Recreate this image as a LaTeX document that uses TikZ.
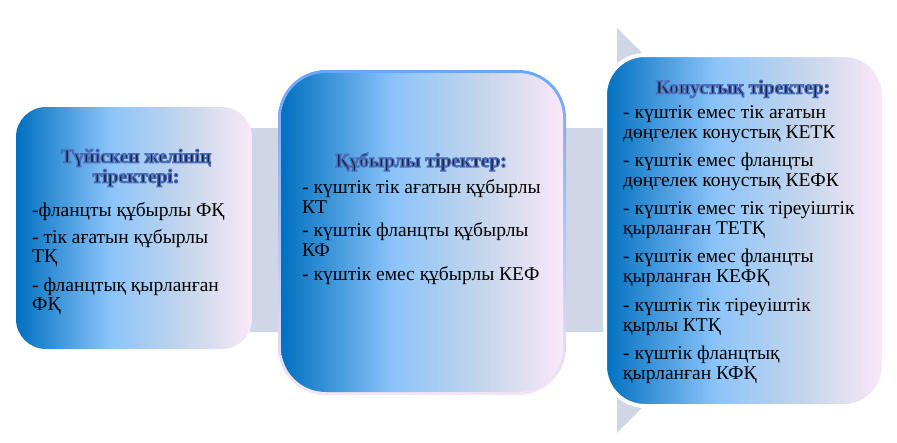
\documentclass[tikz,border=0pt]{standalone}
\usepackage{fontspec}
\setmainfont{Liberation Serif}
\definecolor{arrowc}{RGB}{207,214,230}
\definecolor{ga}{RGB}{0,112,192}
\definecolor{gb}{RGB}{140,196,250}
\definecolor{gc}{RGB}{198,214,236}
\definecolor{gd}{RGB}{250,232,248}
\definecolor{titlec}{RGB}{28,36,68}
\definecolor{bordertop}{RGB}{105,165,255}
\definecolor{borderbot}{RGB}{246,228,246}
\pgfdeclarehorizontalshading{boxgrad}{100bp}{color(0bp)=(ga); color(25bp)=(ga); color(45bp)=(gb); color(61bp)=(gc); color(75bp)=(gd); color(100bp)=(gd)}
\newcommand\outl[1]{\special{pdf:code 2 Tr 1.2 w 0.30 0.43 0.72 RG}#1\special{pdf:code 0 Tr}}
\tikzset{
  gradbox/.style={rounded corners=#1, shading=boxgrad},
  ttl/.style={font=\fontsize{19.5}{20}\selectfont\bfseries, text=titlec, align=center, inner sep=0pt},
  body/.style={font=\fontsize{19.5}{20}\selectfont, text=black, align=left, anchor=north west, inner sep=0pt},
}
\begin{document}
\begin{tikzpicture}[x=1pt,y=-1pt]
\useasboundingbox (0,0) rectangle (897,442);
% background arrow
\fill[arrowc] (250,128) -- (617,128) -- (617,28) -- (819,230) -- (617,433) -- (617,332) -- (250,332) -- cycle;
% box 1
\path[gradbox=30] (16,107) rectangle (252,349);
\node[ttl] (t1) at (136,168) {\outl{Түйіскен желінің}\\\outl{тіректері:}};
\node[body,font=\fontsize{19.5}{18.5}\selectfont] (b1) at (32,202) {-фланцты құбырлы ФҚ\\[9pt]- тік ағатын құбырлы\\ТҚ\\[11pt]- фланцтық қырланған\\ФҚ};
% box 2
\path[rounded corners=48, top color=bordertop, bottom color=borderbot] (278,70) rectangle (566,395);
\path[gradbox=45] (281,73) rectangle (563,392);
\node[ttl] (t2) at (421,162) {\outl{Құбырлы тіректер:}};
\node[body] (b2) at (302,179) {- күштік тік ағатын құбырлы\\КТ\\[3.5pt]- күштік фланцты құбырлы\\КФ\\[3.5pt]- күштік емес құбырлы КЕФ};
% box 3
\path[gradbox=40, draw=white, line width=4pt] (605,55) rectangle (884,406);
\node[ttl] (t3) at (743,89) {\outl{Конустық тіректер:}};
\node[body] (b3) at (623,105) {- күштік емес тік ағатын\\дөңгелек конустық КЕТК\\[8pt]- күштік емес фланцты\\дөңгелек конустық КЕФК\\[8pt]- күштік емес тік тіреуіштік\\қырланған ТЕТҚ\\[8pt]- күштік емес фланцты\\қырланған КЕФҚ\\[9pt]- күштік тік тіреуіштік\\қырлы КТҚ\\[8pt]- күштік фланцтық\\қырланған КФҚ};
\end{tikzpicture}
\end{document}
